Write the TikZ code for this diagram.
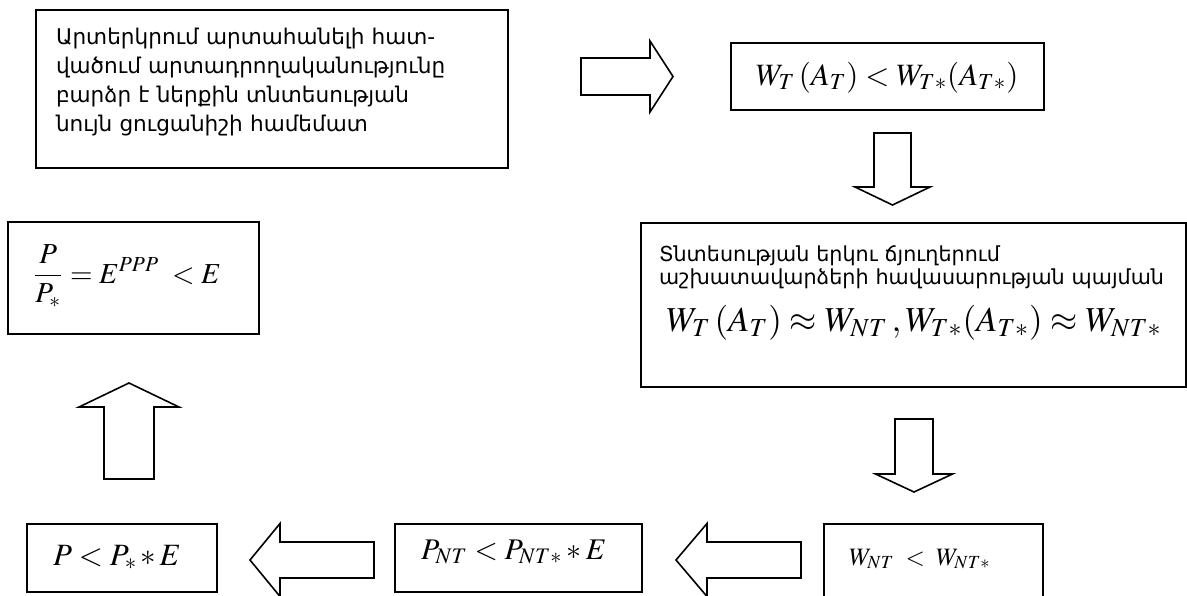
\documentclass[tikz,border=0pt]{standalone}
\usepackage{mathptmx}
\usepackage[no-math]{fontspec}
\setmainfont{DejaVu Sans}
\begin{document}
\begin{tikzpicture}[x=0.5pt,y=-0.5pt,
	panel/.style={draw,line width=1pt,inner ysep=0pt,align=left,anchor=base west},
	blockarrow/.style={draw,line width=0.8pt,line join=miter},
	armtext/.style={font=\fontsize{10.8}{14.5}\selectfont}]
	\clip (0,0) rectangle (1187,595);
	
	% Top row
	\node[panel,armtext,inner xsep=10pt,text width=216pt,text height=17pt,text depth=62pt] (b1) at (35,44)
	{\mbox{Արտերկրում արտահանելի հատ-}\\\mbox{վածում արտադրողականությունը}\\\mbox{բարձր է ներքին տնտեսության}\\\mbox{նույն ցուցանիշի համեմատ}};
	\node[panel,font=\fontsize{15.5}{17}\selectfont,inner xsep=12.5pt,text width=131.5pt,text height=21pt,text depth=12.5pt] (b2) at (730,85)
	{$W_T\,(A_T) < W_{T*}(A_{T*})$};
	
	% Right box with the equilibrium condition
	\node[panel,font=\fontsize{10.35}{11.5}\selectfont,inner xsep=9pt,text width=254.5pt,text height=19pt,text depth=63pt] (b3) at (640,261)
	{\mbox{Տնտեսության երկու ճյուղերում}\\\mbox{աշխատավարձերի հավասարության պայման}};
	\node[anchor=base,inner sep=0pt,font=\fontsize{17.5}{19}\selectfont] (b3eq) at (914,331)
	{$W_T\,(A_T) \approx W_{NT}\,, W_{T*}(A_{T*}) \approx W_{NT*}$};
	
	% Left box
	\node[panel,font=\fontsize{14.5}{17}\selectfont,inner xsep=12.5pt,text width=100.5pt,text height=30.5pt,text depth=25.5pt] (b4) at (7,283)
	{$\displaystyle\frac{P}{P_*} = E^{PPP}\; < E$};
	
	% Bottom row
	\node[panel,font=\fontsize{15.5}{17}\selectfont,inner xsep=13pt,text width=69pt,text height=20.5pt,text depth=13.5pt] (b5) at (26,565)
	{$P < P_*\,{\ast}\,E$};
	\node[panel,font=\fontsize{15}{17}\selectfont,inner xsep=13pt,text width=97.5pt,text height=17.5pt,text depth=16.5pt] (b6) at (394,559)
	{$P_{NT} < P_{NT*} \ast E$};
	\node[panel,font=\fontsize{12.5}{15}\selectfont,inner xsep=12.5pt,text width=84.5pt,text height=20.5pt,text depth=37.5pt] (b7) at (823,565)
	{$W_{NT} \;<\; W_{NT*}$};
	
	% Block arrows: tail x/tail y/rotation/shaft length/half shaft/head length/half head
	\foreach \x/\y/\r/\l/\s/\h/\w in {581/76.5/0/69/18.5/23/35.5, 892.5/133/-90/54/18.5/18/37.5,
		914/419/-90/55/19/18/38.5, 801/560/180/94/18/31/36.5, 374/560/180/94/18/30/36.5, 129/479/90/72/25/24/50}
	\draw[blockarrow,shift={(\x,\y)},rotate=\r] (0,-\s) -- (\l,-\s) -- (\l,-\w) -- (\l+\h,0) -- (\l,\w) -- (\l,\s) -- (0,\s) -- cycle;
\end{tikzpicture}
\end{document}
